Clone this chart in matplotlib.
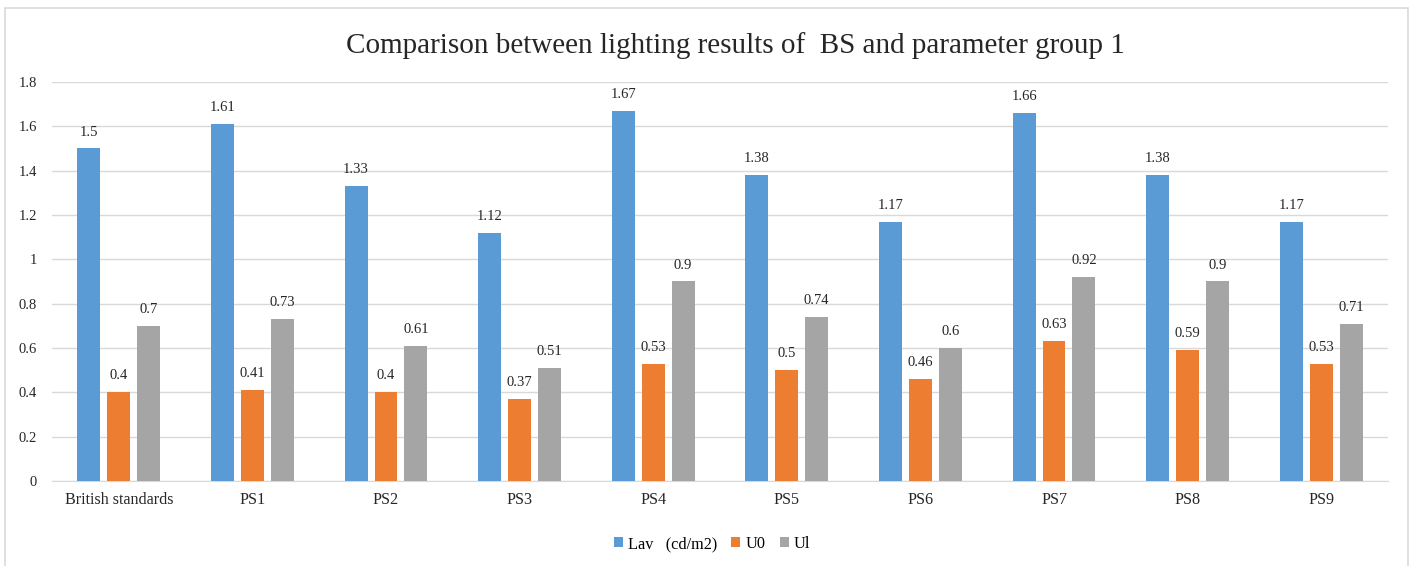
import matplotlib.pyplot as plt
import numpy as np
from matplotlib.patches import Rectangle

categories = ['British standards', 'PS1', 'PS2', 'PS3', 'PS4', 'PS5', 'PS6', 'PS7', 'PS8', 'PS9']
lav = [1.5, 1.61, 1.33, 1.12, 1.67, 1.38, 1.17, 1.66, 1.38, 1.17]
u0 = [0.4, 0.41, 0.4, 0.37, 0.53, 0.5, 0.46, 0.63, 0.59, 0.53]
ul = [0.7, 0.73, 0.61, 0.51, 0.9, 0.74, 0.6, 0.92, 0.9, 0.71]
series_names = ['Lav   (cd/m2)', 'U0', 'Ul']
colors = ['#5B9BD5', '#ED7D31', '#A5A5A5']

plt.rcParams['font.family'] = ['Liberation Serif', 'DejaVu Serif']

fig = plt.figure(figsize=(14.15, 5.66), dpi=100)
ax = fig.add_axes([52/1415, 85/566, 1336/1415, 399/566])

x = np.arange(len(categories))
pitch = 0.224
width = 0.172
for i, (vals, name, c) in enumerate(zip([lav, u0, ul], series_names, colors)):
    bars = ax.bar(x + (i - 1) * pitch, vals, width, color=c, label=name, zorder=3)
    for b, v in zip(bars, vals):
        ax.text(b.get_x() + b.get_width() / 2, v + 0.045, f'{v:g}',
                ha='center', va='bottom', fontsize=10.5, color='#262626')

ax.set_xlim(-0.5, len(categories) - 0.5)
ax.set_ylim(0, 1.8)
ax.set_yticks(np.arange(0, 1.81, 0.2))
ax.set_yticklabels(['0', '0.2', '0.4', '0.6', '0.8', '1', '1.2', '1.4', '1.6', '1.8'])
ax.set_xticks(x)
ax.set_xticklabels(categories)
ax.tick_params(axis='both', length=0, colors='#262626')
ax.tick_params(axis='y', pad=11, labelsize=10.5)
ax.tick_params(axis='x', pad=8, labelsize=11.6)
ax.grid(axis='y', color='#D9D9D9', linewidth=1, zorder=0)
for s in ['top', 'right', 'left']:
    ax.spines[s].set_visible(False)
ax.spines['bottom'].set_color('#D9D9D9')

fig.text(735/1415, 1 - 46/566, 'Comparison between lighting results of  BS and parameter group 1',
         ha='center', va='center', fontsize=21, color='#262626')

ax.legend(loc='center', bbox_to_anchor=(0.494, -0.158), ncol=3, frameon=False,
          fontsize=11.7, handlelength=0.55, handleheight=0.55, handletextpad=0.3,
          columnspacing=0.9)

fig.patches.append(Rectangle((5/1415, -0.02), 1403/1415, 1.02 - 8/566,
                             transform=fig.transFigure, fill=False,
                             edgecolor='#D9D9D9', linewidth=1.2))

fig.savefig('out.png', dpi=100)
